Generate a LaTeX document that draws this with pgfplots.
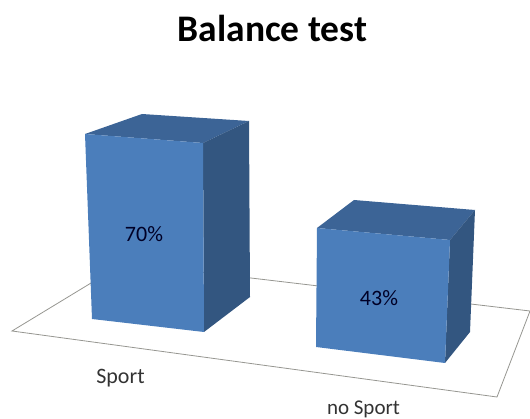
\documentclass[border=0pt]{standalone}
\usepackage{pgfplots}
\pgfplotsset{compat=1.18}
\usepackage{fontspec}
\setmainfont{Carlito}
\definecolor{front}{RGB}{75,126,187}
\definecolor{topf}{RGB}{60,100,150}
\definecolor{sidef}{RGB}{51,86,128}
\definecolor{floorl}{RGB}{150,150,145}
\begin{document}
\begin{tikzpicture}
\useasboundingbox (0,0) rectangle (530pt,419pt);
\begin{axis}[
  at={(0,0)},anchor=south west,
  width=530pt,height=419pt,scale only axis,
  xmin=0,xmax=530,ymin=0,ymax=419,y dir=reverse,
  hide axis,clip=true,
]
% floor
\addplot[floorl,line width=0.8pt] coordinates {(124,263) (12,331) (497,397) (530,311) (124,263)};
% bar Sport (70%)
\addplot[draw=none,fill=topf] coordinates {(85,134) (142,114) (249,121) (203,143)} -- cycle;
\addplot[draw=none,fill=sidef] coordinates {(203,143) (249,121) (250,297) (204,332)} -- cycle;
\addplot[draw=none,fill=front] coordinates {(85,134) (203,143) (204,332) (92,319)} -- cycle;
% bar no Sport (43%)
\addplot[draw=none,fill=topf] coordinates {(317,228) (354,200) (475,210) (450,240)} -- cycle;
\addplot[draw=none,fill=sidef] coordinates {(450,240) (475,210) (470,332) (445,363)} -- cycle;
\addplot[draw=none,fill=front] coordinates {(317,228) (450,240) (445,363) (316,347)} -- cycle;
\node[font=\fontsize{37.5}{40}\selectfont\bfseries,text=black,inner sep=0pt] at (axis cs:272.5,28) {Balance test};
\node[font=\fontsize{22}{24}\selectfont,text=black!85!blue,inner sep=0pt] at (axis cs:144,234) {70\%};
\node[font=\fontsize{22}{24}\selectfont,text=black!85!blue,inner sep=0pt] at (axis cs:379,298) {43\%};
\node[font=\fontsize{22}{24}\selectfont,text=black!80,inner sep=0pt] at (axis cs:120.5,378) {Sport};
\node[font=\fontsize{21}{23}\selectfont,text=black!80,inner sep=0pt] at (axis cs:363.5,409) {no Sport};
\end{axis}
\end{tikzpicture}
\end{document}
